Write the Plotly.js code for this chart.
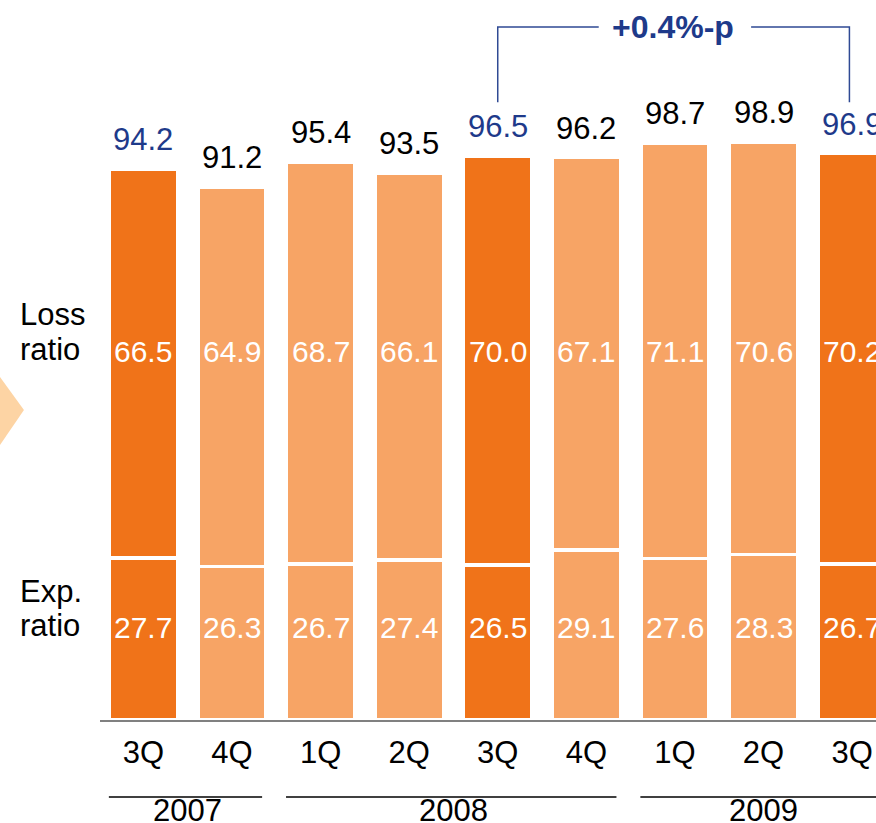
<!DOCTYPE html>
<html>
<head>
<meta charset="utf-8">
<script src="https://cdn.plot.ly/plotly-3.0.1.min.js"></script>
<style>
  html, body { margin: 0; padding: 0; background: #ffffff; }
  #chart { width: 876px; height: 823px; }
</style>
</head>
<body>
<div id="chart"></div>
<script>
// ---- data ----
const quarters = ["3Q", "4Q", "1Q", "2Q", "3Q", "4Q", "1Q", "2Q", "3Q"];
const years = ["2007", "2007", "2008", "2008", "2008", "2008", "2009", "2009", "2009"];
const expenseRatio = [27.7, 26.3, 26.7, 27.4, 26.5, 29.1, 27.6, 28.3, 26.7];
const lossRatio = [66.5, 64.9, 68.7, 66.1, 70.0, 67.1, 71.1, 70.6, 70.2];
const combinedRatio = [94.2, 91.2, 95.4, 93.5, 96.5, 96.2, 98.7, 98.9, 96.9];
const bracketFrom = 4, bracketTo = 8;

// ---- styles ----
const FONT = "Liberation Sans, Arial, Helvetica, sans-serif";
const DARK = "#F07319";
const LIGHT = "#F7A465";
const BLUE = "#1E3A8A";
const idx = quarters.map((q, i) => i);
const isHighlight = quarters.map(q => q === "3Q");
const barColors = isHighlight.map(h => h ? DARK : LIGHT);

const traces = [
  {
    type: "bar", x: idx, y: expenseRatio, name: "Exp. ratio",
    marker: { color: barColors, line: { color: "#ffffff", width: 3.5 } },
    hoverinfo: "skip"
  },
  {
    type: "bar", x: idx, y: lossRatio, name: "Loss ratio",
    marker: { color: barColors, line: { color: "#ffffff", width: 3.5 } },
    hoverinfo: "skip"
  }
];

const annotations = [];
// totals above bars
idx.forEach(i => {
  annotations.push({
    x: i, y: combinedRatio[i], xref: "x", yref: "y",
    text: combinedRatio[i].toFixed(1), showarrow: false,
    yanchor: "bottom", yshift: 10,
    font: { family: FONT, size: 31, color: isHighlight[i] ? BLUE : "#000000" }
  });
  annotations.push({
    x: i, y: 0.512, xref: "x", yref: "paper",
    text: lossRatio[i].toFixed(1), showarrow: false, yanchor: "middle",
    font: { family: FONT, size: 30, color: "#ffffff" }
  });
  annotations.push({
    x: i, y: 0.128, xref: "x", yref: "paper",
    text: expenseRatio[i].toFixed(1), showarrow: false, yanchor: "middle",
    font: { family: FONT, size: 30, color: "#ffffff" }
  });
});

// side labels
[["Loss", 0.563], ["ratio", 0.514], ["Exp.", 0.178], ["ratio", 0.131]].forEach(([t, y]) => {
  annotations.push({
    x: -0.106, y: y, xref: "paper", yref: "paper", text: t, showarrow: false,
    xanchor: "left", yanchor: "middle",
    font: { family: FONT, size: 31, color: "#000000" }
  });
});

// year groups
const shapes = [];
const groups = [];
years.forEach((yr, i) => {
  const g = groups[groups.length - 1];
  if (g && g.year === yr) g.last = i; else groups.push({ year: yr, first: i, last: i });
});
groups.forEach(g => {
  shapes.push({
    type: "line", xref: "x", yref: "paper",
    x0: g.first - 0.39, x1: g.last + 0.34, y0: -0.107, y1: -0.107,
    line: { color: "#404040", width: 2 }
  });
  annotations.push({
    x: (g.first + g.last) / 2, y: -0.126, xref: "x", yref: "paper",
    text: g.year, showarrow: false, yanchor: "middle",
    font: { family: FONT, size: 31, color: "#000000" }
  });
});

// bracket
const diff = combinedRatio[bracketTo] - combinedRatio[bracketFrom];
const mid = (bracketFrom + bracketTo) / 2;
const yTop = 0.9625, yBot = 0.858, gap = 0.86;
shapes.push({
  type: "path", xref: "x", yref: "paper",
  path: `M ${bracketFrom} ${yBot} L ${bracketFrom} ${yTop} L ${mid - gap} ${yTop}`,
  line: { color: "#2F4A94", width: 1.5 }
});
shapes.push({
  type: "path", xref: "x", yref: "paper",
  path: `M ${bracketTo - 0.03} ${yBot} L ${bracketTo - 0.03} ${yTop} L ${mid + gap} ${yTop}`,
  line: { color: "#2F4A94", width: 1.5 }
});
annotations.push({
  x: mid - 0.02, y: yTop, xref: "x", yref: "paper",
  text: "<b>" + (diff >= 0 ? "+" : "") + diff.toFixed(1) + "%-p</b>",
  showarrow: false, yanchor: "middle",
  font: { family: FONT, size: 32, color: BLUE }
});

// left chevron decoration
shapes.push({
  type: "path", xref: "paper", yref: "paper",
  path: "M -0.14 0.4764 L -0.1289 0.4764 L -0.098 0.4306 L -0.1289 0.3819 L -0.14 0.3819 Z",
  fillcolor: "#FDD4A4", line: { width: 0 }
});

const layout = {
  width: 876, height: 823,
  margin: { l: 100, r: 0, t: 0, b: 103 },
  paper_bgcolor: "#ffffff", plot_bgcolor: "#ffffff",
  barmode: "stack", bargap: 0.23,
  showlegend: false,
  xaxis: {
    range: [-0.49, 8.27], tickvals: idx, ticktext: quarters,
    showgrid: false, zeroline: false,
    showline: true, linecolor: "#808080", linewidth: 2,
    ticks: "outside", ticklen: 4, tickcolor: "rgba(0,0,0,0)",
    tickfont: { family: FONT, size: 31, color: "#000000" },
    fixedrange: true
  },
  yaxis: {
    range: [0, 123.16], visible: false, showgrid: false, zeroline: false, fixedrange: true
  },
  annotations: annotations,
  shapes: shapes
};

Plotly.newPlot("chart", traces, layout, { displayModeBar: false, staticPlot: true });
</script>
</body>
</html>
